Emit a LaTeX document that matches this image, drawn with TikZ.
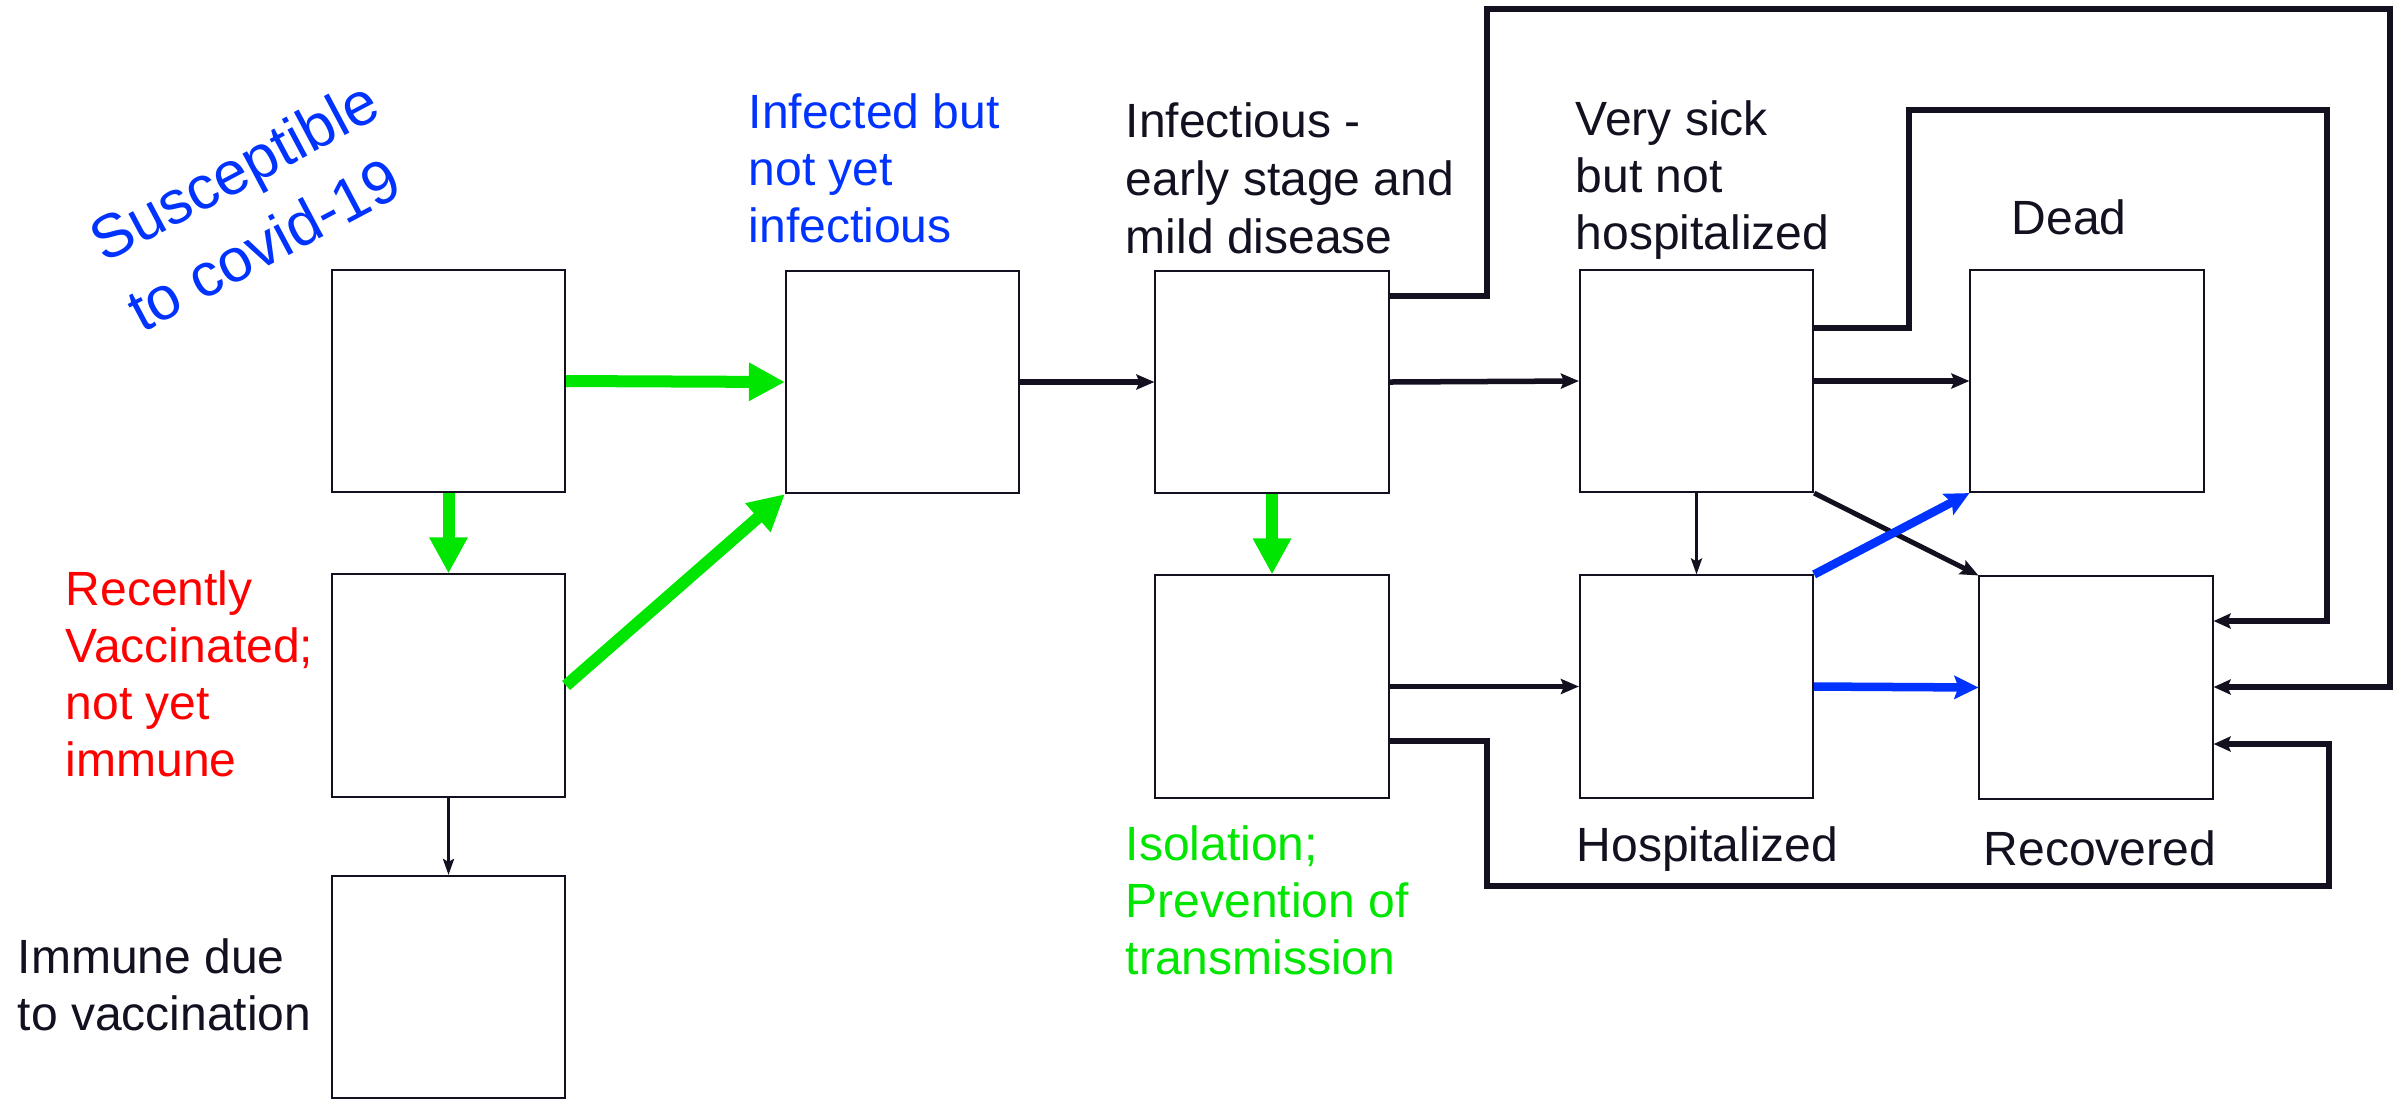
\documentclass[tikz,border=0pt]{standalone}
\usepackage{fontspec}
\setmainfont{Liberation Sans}
\usetikzlibrary{arrows.meta,calc}
\definecolor{ink}{RGB}{20,16,32}
\definecolor{tblue}{RGB}{0,51,255}
\definecolor{tgreen}{RGB}{0,230,0}
\definecolor{tred}{RGB}{255,0,0}
\tikzset{
  box/.style={draw=ink, line width=0.02cm, rectangle, inner sep=0pt, minimum width=2.33cm, minimum height=2.22cm},
  lbl/.style={anchor=base west, inner sep=0pt, font=\fontsize{13.66pt}{16.2pt}\selectfont},
  garrow/.style={draw=tgreen, line width=0.12cm, -{Triangle[length=0.36cm,width=0.36cm]}},
  barrow/.style={draw=ink, line width=0.055cm, -{Stealth[length=0.18cm,width=0.15cm,inset=0.03cm]}},
  tarrow/.style={draw=ink, line width=0.03cm, -{Stealth[length=0.16cm,width=0.11cm,inset=0.03cm]}},
  darrow/.style={draw=ink, line width=0.05cm, -{Stealth[length=0.18cm,width=0.15cm,inset=0.03cm]}},
  bluearrow/.style={draw=tblue, line width=0.085cm, -{Stealth[length=0.24cm,width=0.23cm,inset=0.04cm]}},
  looparrow/.style={draw=ink, line width=0.055cm, line join=miter, -{Stealth[length=0.17cm,width=0.15cm,inset=0.03cm]}}
}
\begin{document}
\begin{tikzpicture}[x=0.01cm,y=-0.01cm]
\useasboundingbox (0,0) rectangle (2407,1102);
% boxes
\node[box] (S) at (448.5,381) {};
\node[box] (E) at (902.5,382) {};
\node[box] (V) at (448.5,685.5) {};
\node[box] (Imm) at (448.5,987) {};
\node[box] (I) at (1272,382) {};
\node[box] (Iso) at (1272,686.5) {};
\node[box] (VS) at (1696.5,381) {};
\node[box] (Hosp) at (1696.5,686.5) {};
\node[box] (Dead) at (2087,381) {};
\node[box] (Rec) at (2096,687.5) {};
% labels
\node[anchor=south west, inner sep=0pt, rotate=28, align=left, text=tblue, font=\fontsize{17.35pt}{22.5pt}\selectfont] (sus) at (142,335) {Susceptible\\to covid-19};
\node[lbl, text=tblue] (e1) at (748,128) {Infected but};
\node[lbl, text=tblue] (e2) at (748,185) {not yet};
\node[lbl, text=tblue] (e3) at (748,242) {infectious};
\node[lbl, text=ink] (i1) at (1125,137) {Infectious -};
\node[lbl, text=ink] (i2) at (1125,195) {early stage and};
\node[lbl, text=ink] (i3) at (1125,253) {mild disease};
\node[lbl, text=ink] (vs1) at (1575,135) {Very sick};
\node[lbl, text=ink] (vs2) at (1575,192) {but not};
\node[lbl, text=ink] (vs3) at (1575,249) {hospitalized};
\node[lbl, text=ink] (d1) at (2011,234) {Dead};
\node[lbl, text=tred] (v1) at (65,605) {Recently};
\node[lbl, text=tred] (v2) at (65,662) {Vaccinated;};
\node[lbl, text=tred] (v3) at (65,719) {not yet};
\node[lbl, text=tred] (v4) at (65,776) {immune};
\node[lbl, text=ink] (m1) at (17,973) {Immune due};
\node[lbl, text=ink] (m2) at (17,1030) {to vaccination};
\node[lbl, text=tgreen] (is1) at (1125,860) {Isolation;};
\node[lbl, text=tgreen] (is2) at (1125,917) {Prevention of};
\node[lbl, text=tgreen] (is3) at (1125,974) {transmission};
\node[lbl, text=ink] (h1) at (1576,861) {Hospitalized};
\node[lbl, text=ink] (r1) at (1983,865) {Recovered};
% green arrows
\draw[garrow] (S.east) -- (E.west);
\draw[garrow] (S.south) -- (V.north);
\draw[garrow] (V.east) -- (E.south west);
\draw[garrow] (I.south) -- (Iso.north);
% black arrows
\draw[tarrow] (V.south) -- (Imm.north);
\draw[barrow] (E.east) -- (I.west);
\draw[barrow] (I.east) -- (VS.west);
\draw[barrow] (VS.east) -- (Dead.west);
\draw[tarrow] (VS.south) -- (Hosp.north);
\draw[darrow] (VS.south east) -- (Rec.north west);
\draw[barrow] (Iso.east) -- (Hosp.west);
% blue arrows
\draw[bluearrow] (Hosp.north east) -- (Dead.south west);
\draw[bluearrow] (Hosp.east) -- (Rec.west);
% loops
\coordinate (l1a) at (1487,9);
\coordinate (l1b) at (2390,687);
\draw[looparrow] ($(I.east)+(0,-86)$) -| (l1a) -| (l1b) -- ($(Rec.east)+(0,-0.5)$);
\coordinate (l2a) at (1909,110);
\coordinate (l2b) at (2327,621);
\draw[looparrow] ($(VS.east)+(0,-53)$) -| (l2a) -| (l2b) -- ($(Rec.east)+(0,-66.5)$);
\coordinate (l3a) at (1487,886);
\coordinate (l3b) at (2329,744);
\draw[looparrow] ($(Iso.east)+(0,54.5)$) -| (l3a) -| (l3b) -- ($(Rec.east)+(0,56.5)$);
\end{tikzpicture}
\end{document}
